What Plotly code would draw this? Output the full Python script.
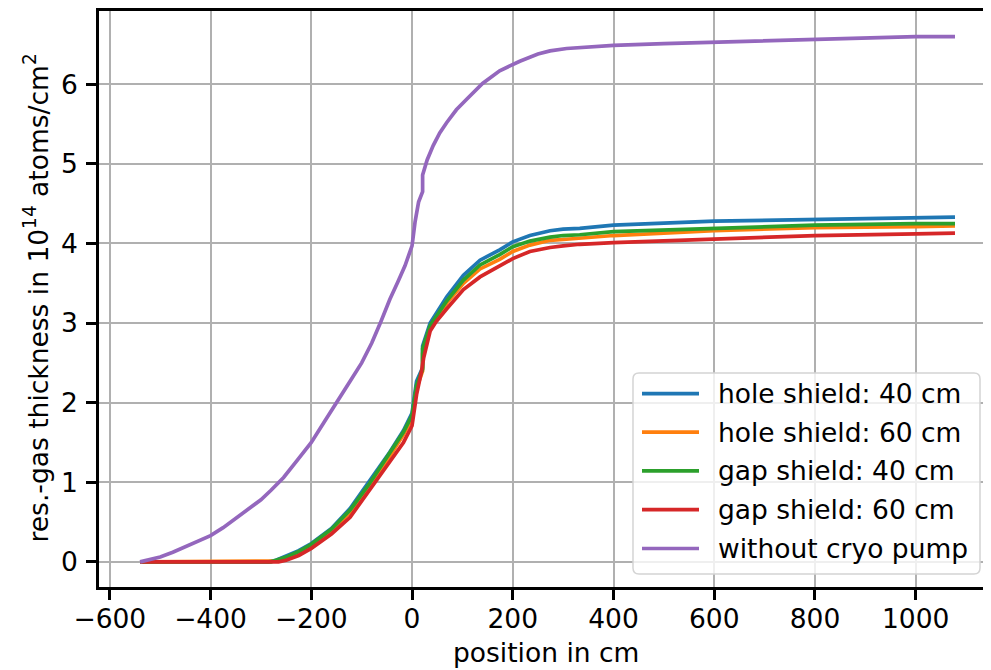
import plotly.graph_objects as go

# ---- data ----
x_blue = [-540, -285, -270, -250, -225, -200, -160, -123, -86, -44, -17, 0, 9, 21, 21, 36, 69, 102, 135, 174, 200, 234, 274, 300, 333, 400, 600, 800, 1000, 1078]
y_blue = [0, 0, 0.02, 0.07, 0.14, 0.23, 0.42, 0.67, 1.0, 1.38, 1.65, 1.87, 2.27, 2.44, 2.71, 3.0, 3.33, 3.6, 3.79, 3.92, 4.02, 4.1, 4.16, 4.18, 4.19, 4.23, 4.28, 4.30, 4.33, 4.33]

x_orange = [-540, -275, -265, -250, -225, -200, -160, -123, -86, -44, -17, 0, 9, 21, 21, 36, 69, 102, 135, 174, 200, 234, 274, 300, 333, 400, 600, 800, 1000, 1078]
y_orange = [0, 0, 0.01, 0.05, 0.12, 0.21, 0.39, 0.62, 0.94, 1.33, 1.60, 1.80, 2.18, 2.40, 2.62, 2.95, 3.25, 3.5, 3.68, 3.80, 3.90, 3.98, 4.04, 4.05, 4.07, 4.10, 4.16, 4.20, 4.21, 4.22]

x_green = [-540, -280, -270, -250, -225, -200, -160, -123, -86, -44, -17, 0, 9, 21, 21, 36, 69, 102, 135, 174, 200, 234, 274, 300, 333, 400, 600, 800, 1000, 1078]
y_green = [0, 0, 0.02, 0.06, 0.13, 0.22, 0.41, 0.65, 0.97, 1.36, 1.63, 1.84, 2.22, 2.42, 2.68, 2.97, 3.28, 3.54, 3.73, 3.86, 3.96, 4.03, 4.08, 4.10, 4.11, 4.15, 4.19, 4.23, 4.25, 4.25]

x_red = [-540, -265, -250, -225, -200, -160, -123, -73, -44, -17, 0, 9, 19, 23, 36, 48, 69, 102, 135, 174, 200, 234, 274, 300, 333, 400, 600, 800, 1000, 1078]
y_red = [0, 0, 0.02, 0.08, 0.17, 0.35, 0.56, 1.0, 1.27, 1.50, 1.71, 2.1, 2.4, 2.56, 2.9, 3.02, 3.18, 3.42, 3.58, 3.72, 3.81, 3.9, 3.95, 3.97, 3.99, 4.01, 4.06, 4.10, 4.12, 4.13]

x_purple = [-540, -520, -500, -475, -450, -425, -400, -375, -350, -322, -300, -280, -255, -230, -200, -175, -149, -123, -100, -80, -63, -44, -28, -14, 0, 6, 13, 21, 21, 30, 42, 55, 69, 88, 108, 140, 174, 214, 250, 274, 307, 400, 500, 600, 800, 1000, 1078]
y_purple = [0, 0.03, 0.06, 0.12, 0.19, 0.25, 0.33, 0.43, 0.55, 0.67, 0.78, 0.9, 1.06, 1.26, 1.5, 1.75, 2.0, 2.27, 2.5, 2.75, 3.0, 3.3, 3.52, 3.72, 3.97, 4.27, 4.52, 4.65, 4.86, 5.05, 5.23, 5.39, 5.52, 5.68, 5.81, 6.01, 6.17, 6.29, 6.38, 6.42, 6.45, 6.49, 6.51, 6.53, 6.57, 6.60, 6.60]

series_names = ["hole shield: 40 cm", "hole shield: 60 cm", "gap shield: 40 cm", "gap shield: 60 cm", "without cryo pump"]
series_colors = ["#1f77b4", "#ff7f0e", "#2ca02c", "#d62728", "#9467bd"]
series_x = [x_blue, x_orange, x_green, x_red, x_purple]
series_y = [y_blue, y_orange, y_green, y_red, y_purple]

x_ticks = [-600, -400, -200, 0, 200, 400, 600, 800, 1000]
y_ticks = [0, 1, 2, 3, 4, 5, 6]

FONT = "DejaVu Sans"
FS = 26.5
LW = 3.7

# page body has an 8px margin; figure coordinates are window coordinates minus 8
OFF = 8
W, H = 983, 662
PL, PR, PT, PB = 99, 991, 8, 587          # plot area in window pixels
L, T = PL - OFF, PT - OFF
R = W - (PR - OFF)
B = H - (PB - OFF)


def pxx(X):
    return (X - PL) / (PR - PL)


def pxy(Y):
    return (PB - Y) / (PB - PT)


fig = go.Figure()
for name, col, xs, ys in zip(series_names, series_colors, series_x, series_y):
    fig.add_trace(go.Scatter(x=xs, y=ys, mode="lines", name=name,
                             line=dict(color=col, width=LW), showlegend=False))

# ---- legend drawn by hand (matplotlib style) ----
shapes = []
bx0, bx1, by0, by1, rr = 633, 980, 372, 574, 6
pts = [
    ("M", bx0 + rr, by0), ("L", bx1 - rr, by0), ("Q", bx1, by0, bx1, by0 + rr),
    ("L", bx1, by1 - rr), ("Q", bx1, by1, bx1 - rr, by1), ("L", bx0 + rr, by1),
    ("Q", bx0, by1, bx0, by1 - rr), ("L", bx0, by0 + rr), ("Q", bx0, by0, bx0 + rr, by0),
]
path = ""
for p in pts:
    cmd = p[0]
    coords = p[1:]
    s = []
    for i in range(0, len(coords), 2):
        s.append(f"{pxx(coords[i]):.5f},{pxy(coords[i+1]):.5f}")
    path += cmd + " ".join(s) + " "
path += "Z"
shapes.append(dict(type="path", xref="paper", yref="paper", path=path,
                   fillcolor="rgba(255,255,255,0.8)", line=dict(color="#d4d4d4", width=1.5)))

rows = [392.7, 431.3, 470.3, 509.3, 548.3]
annotations = []
for name, col, ry in zip(series_names, series_colors, rows):
    shapes.append(dict(type="line", xref="paper", yref="paper",
                       x0=pxx(642), x1=pxx(699), y0=pxy(ry), y1=pxy(ry),
                       line=dict(color=col, width=LW)))
    annotations.append(dict(text=name, xref="paper", yref="paper", x=pxx(716), y=pxy(ry),
                            xanchor="left", yanchor="middle", showarrow=False,
                            font=dict(family=FONT, size=FS, color="black")))

annotations.append(dict(text="position in cm", xref="paper", yref="paper",
                        x=pxx(546), y=pxy(653), xanchor="center", yanchor="middle",
                        showarrow=False, font=dict(family=FONT, size=FS)))
annotations.append(dict(text="res.-gas thickness in 10<sup>14</sup> atoms/cm<sup>2</sup>",
                        xref="paper", yref="paper", x=pxx(36), y=pxy(297),
                        xanchor="center", yanchor="middle", textangle=-90,
                        showarrow=False, font=dict(family=FONT, size=FS)))

fig.update_layout(
    width=W, height=H,
    margin=dict(l=L, r=R, t=T, b=B, pad=0),
    paper_bgcolor="white", plot_bgcolor="white",
    font=dict(family=FONT, size=FS, color="black"),
    showlegend=False,
    xaxis=dict(
        range=[-621.5, 1149.5], tickvals=x_ticks,
        ticktext=[("\u2212" + str(-v)) if v < 0 else str(v) for v in x_ticks],
        showgrid=True, gridcolor="#b0b0b0", gridwidth=2,
        showline=True, linecolor="black", linewidth=2.5, mirror=True,
        ticks="outside", ticklen=10, tickwidth=2.5, tickcolor="black",
        ticklabelstandoff=-4,
        zeroline=False, tickfont=dict(family=FONT, size=FS),
    ),
    yaxis=dict(
        range=[-0.316, 6.921], tickvals=y_ticks, ticktext=[str(v) for v in y_ticks],
        showgrid=True, gridcolor="#b0b0b0", gridwidth=2,
        showline=True, linecolor="black", linewidth=2.5,
        ticks="outside", ticklen=10, tickwidth=2.5, tickcolor="black",
        ticklabelstandoff=3,
        zeroline=False, tickfont=dict(family=FONT, size=FS),
    ),
    shapes=shapes,
    annotations=annotations,
)

fig.write_html("out.html")
